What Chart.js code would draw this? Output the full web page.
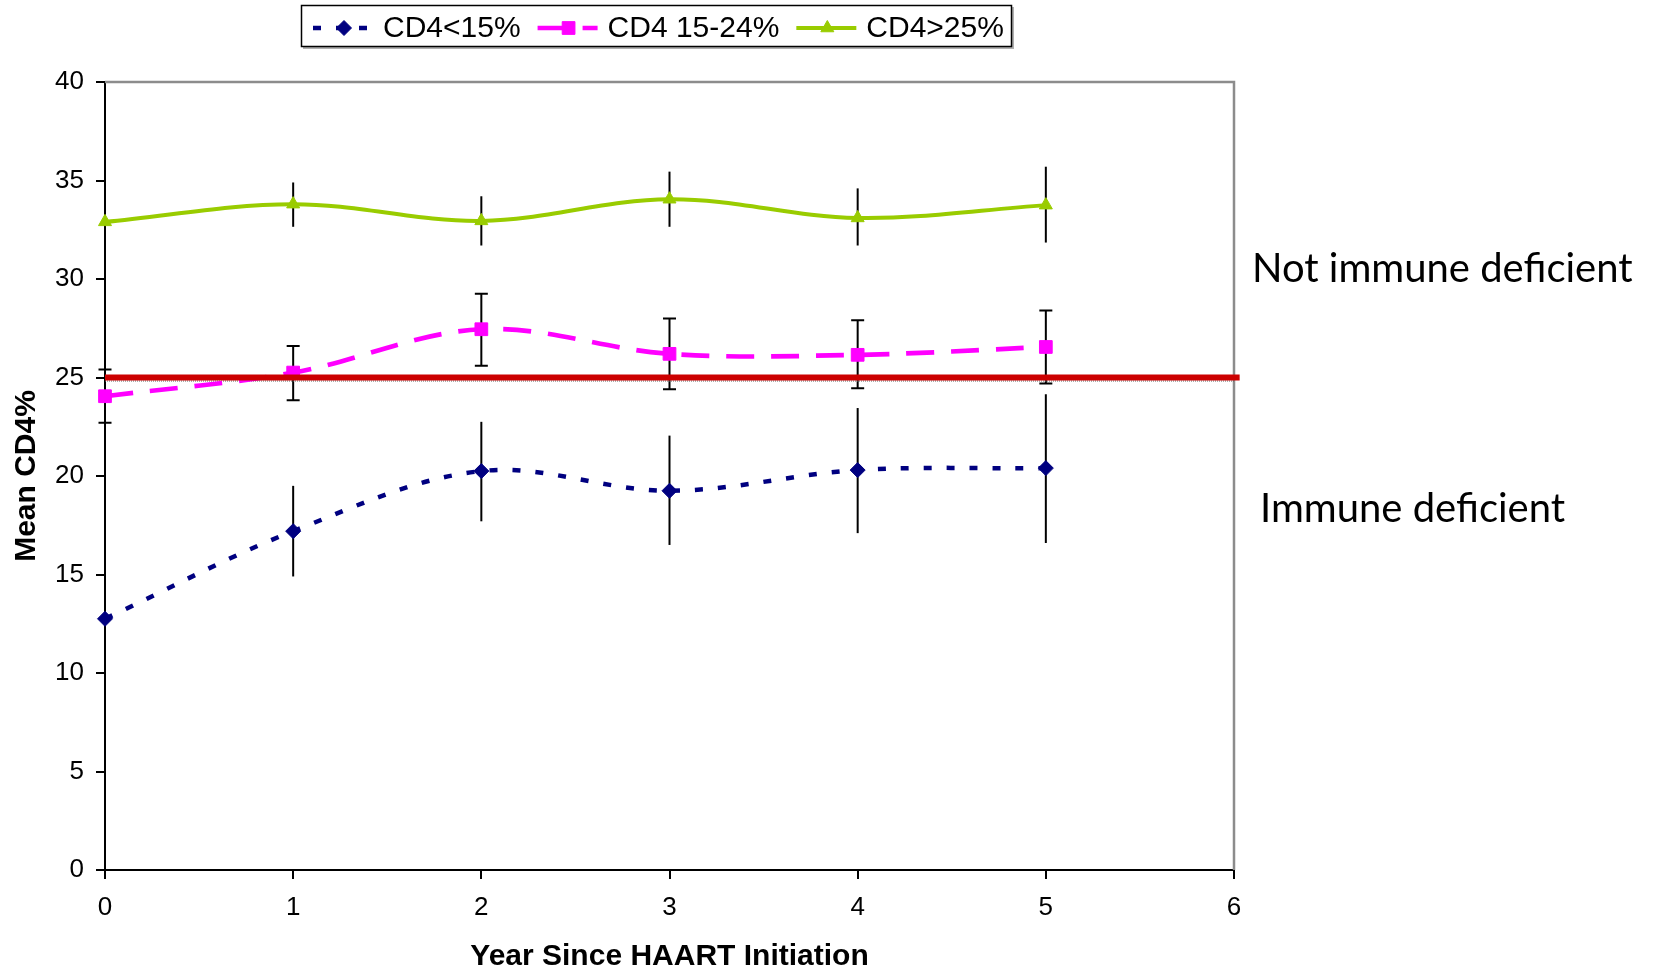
<!DOCTYPE html>
<html>
<head>
<meta charset="utf-8">
<title>Mean CD4% since HAART initiation</title>
<script src="https://cdn.jsdelivr.net/npm/chart.js@4.4.1/dist/chart.umd.min.js"></script>
<style>
    html, body { margin: 0; padding: 0; background: #fff; }
    #wrap { width: 1653px; height: 968px; }
</style>
</head>
<body>
<div id="wrap"><canvas id="cd4Chart" width="1653" height="968"></canvas></div>
<script>
// years since HAART start
const years = [0, 1, 2, 3, 4, 5];

// CD4<15% group
const lowMean  = [12.75, 17.2, 20.25, 19.25, 20.3, 20.4];
const lowUpper = [14.3, 19.5, 22.75, 22.05, 23.45, 24.15];
const lowLower = [11.2, 14.9, 17.7, 16.5, 17.1, 16.6];

// CD4 15-24% group
const midMean  = [24.05, 25.25, 27.45, 26.2, 26.15, 26.55];
const midUpper = [25.4, 26.6, 29.25, 28.0, 27.9, 28.4];
const midLower = [22.7, 23.85, 25.6, 24.4, 24.45, 24.7];

// CD4>25% group
const highMean  = [32.9, 33.8, 32.95, 34.05, 33.1, 33.75];
const highUpper = [34.0, 34.9, 34.2, 35.45, 34.6, 35.7];
const highLower = [31.75, 32.65, 31.7, 32.65, 31.7, 31.85];

// immune deficiency threshold line
const refYears = [0, 6.03];
const refLevel = 25;
const refDotted = 24.82;

// axes
const xMin = 0, xMax = 6, xStep = 1;
const yMin = 0, yMax = 40, yStep = 5;

const labels = ['CD4<15%', 'CD4 15-24%', 'CD4>25%'];

const toPoints = (xs, ys) => xs.map((x, i) => ({ x: x, y: Array.isArray(ys) ? ys[i] : ys }));

Chart.defaults.font.family = "'Liberation Sans', Arial, sans-serif";
Chart.defaults.color = '#000';

// vertical error bars, drawn under the lines
const errorBars = {
    id: 'errorBars',
    beforeDatasetsDraw(chart) {
        const { ctx, chartArea, scales: { x, y } } = chart;
        ctx.save();
        // grey frame on top and right of the plot
        ctx.strokeStyle = '#8c8c8c';
        ctx.lineWidth = 2.5;
        ctx.beginPath();
        ctx.moveTo(chartArea.left, chartArea.top);
        ctx.lineTo(chartArea.right, chartArea.top);
        ctx.lineTo(chartArea.right, chartArea.bottom);
        ctx.stroke();

        ctx.strokeStyle = '#000';
        ctx.lineWidth = 2;
        chart.data.datasets.forEach(ds => {
            if (!ds.errHi) return;
            years.forEach((yr, i) => {
                const px = x.getPixelForValue(yr);
                const top = y.getPixelForValue(ds.errHi[i]);
                const bot = y.getPixelForValue(ds.errLo[i]);
                ctx.beginPath();
                ctx.moveTo(px, top);
                ctx.lineTo(px, bot);
                if (ds.errCap) {
                    ctx.moveTo(px - 6.5, top); ctx.lineTo(px + 6.5, top);
                    ctx.moveTo(px - 6.5, bot); ctx.lineTo(px + 6.5, bot);
                }
                ctx.stroke();
            });
        });
        ctx.restore();
    }
};

// boxed legend at the top + the two side notes
const extras = {
    id: 'extras',
    afterDraw(chart) {
        const { ctx, chartArea, scales: { y } } = chart;
        ctx.save();

        ctx.fillStyle = '#b0b0b0';
        ctx.fillRect(303, 7, 711, 42);
        ctx.fillStyle = '#fff';
        ctx.fillRect(301, 5, 711, 42);
        ctx.strokeStyle = '#000';
        ctx.lineWidth = 1.5;
        ctx.strokeRect(301.5, 5.5, 710, 41);

        ctx.font = "30px 'Liberation Sans', Arial, sans-serif";
        ctx.textBaseline = 'middle';
        let cx = 313;
        const cy = 28;
        for (let i = 0; i < 3; i++) {
            const ds = chart.data.datasets[i];
            ctx.save();
            ctx.strokeStyle = ds.borderColor;
            ctx.lineWidth = ds.borderWidth;
            ctx.setLineDash(ds.borderDash || []);
            ctx.beginPath();
            ctx.moveTo(cx, cy);
            ctx.lineTo(cx + 60, cy);
            ctx.stroke();
            ctx.restore();
            ctx.fillStyle = ds.backgroundColor;
            ctx.strokeStyle = ds.borderColor;
            ctx.lineWidth = 1;
            Chart.helpers.drawPoint(ctx, {
                pointStyle: ds.pointStyle, radius: ds.pointRadius, rotation: 0, borderWidth: 1
            }, cx + 31, cy);
            ctx.fillStyle = '#000';
            ctx.fillText(ds.label, cx + 70, cy + 1);
            cx += 70 + ctx.measureText(ds.label).width + 17;
        }

        ctx.font = "40px Lato, 'Open Sans', sans-serif";
        ctx.fillStyle = '#000';
        ctx.textBaseline = 'middle';
        ctx.fillText('Not immune deficient', chartArea.right + 18, y.getPixelForValue(30.5));
        ctx.fillText('Immune deficient', chartArea.right + 26, y.getPixelForValue(18.3));
        ctx.restore();
    }
};

const ctx = document.getElementById('cd4Chart').getContext('2d');
const cd4Chart = new Chart(ctx, {
    type: 'line',
    data: {
        datasets: [
            {
                label: labels[0],
                data: toPoints(years, lowMean),
                errHi: lowUpper, errLo: lowLower, errCap: false,
                borderColor: '#000080', backgroundColor: '#000080',
                borderWidth: 4.5, borderDash: [8, 15],
                pointStyle: 'rectRot', pointRadius: 7.5, pointBorderWidth: 1,
                tension: 0.35, clip: 12, order: 1
            },
            {
                label: labels[1],
                data: toPoints(years, midMean),
                errHi: midUpper, errLo: midLower, errCap: true,
                borderColor: '#ff00ff', backgroundColor: '#ff00ff',
                borderWidth: 4.7, borderDash: [28, 17],
                pointStyle: 'rect', pointRadius: 9, pointBorderWidth: 1,
                tension: 0.35, clip: 12, order: 1
            },
            {
                label: labels[2],
                data: toPoints(years, highMean),
                errHi: highUpper, errLo: highLower, errCap: false,
                borderColor: '#99cc00', backgroundColor: '#99cc00',
                borderWidth: 4,
                pointStyle: 'triangle', pointRadius: 7.5, pointBorderWidth: 1,
                tension: 0.35, clip: 12, order: 1
            },
            {
                label: 'threshold',
                data: toPoints(refYears, refLevel),
                borderColor: '#cc0000', borderWidth: 6,
                pointRadius: 0, tension: 0, clip: 10, order: 0
            },
            {
                label: 'threshold dotted',
                data: toPoints([xMin, xMax], refDotted),
                borderColor: '#666', borderWidth: 1, borderDash: [1, 1],
                pointRadius: 0, tension: 0, order: 2
            }
        ]
    },
    options: {
        responsive: false,
        animation: false,
        devicePixelRatio: 1,
        layout: { padding: { top: 82, right: 419, bottom: 0, left: 0 } },
        plugins: {
            legend: { display: false },
            tooltip: { enabled: false }
        },
        scales: {
            x: {
                type: 'linear', min: xMin, max: xMax,
                ticks: { stepSize: xStep, font: { size: 26 }, padding: 13, color: '#000' },
                grid: { drawOnChartArea: false, drawTicks: true, tickLength: 9, color: '#000', lineWidth: 2 },
                border: { color: '#000', width: 2 },
                title: {
                    display: true, text: 'Year Since HAART Initiation', color: '#000',
                    font: { size: 30, weight: 'bold', lineHeight: 0.75 }, padding: { top: 14, bottom: 0 }
                },
                afterFit(s) { s.height = 98; }
            },
            y: {
                min: yMin, max: yMax,
                ticks: { stepSize: yStep, font: { size: 26 }, padding: 12, color: '#000' },
                grid: { drawOnChartArea: false, drawTicks: true, tickLength: 9, color: '#000', lineWidth: 2 },
                border: { color: '#000', width: 2 },
                title: {
                    display: true, text: 'Mean CD4%', color: '#000',
                    font: { size: 30, weight: 'bold', lineHeight: 1 }, padding: { top: 12, bottom: 4 }
                },
                afterFit(s) { s.width = 105; }
            }
        }
    },
    plugins: [errorBars, extras]
});
</script>
</body>
</html>
